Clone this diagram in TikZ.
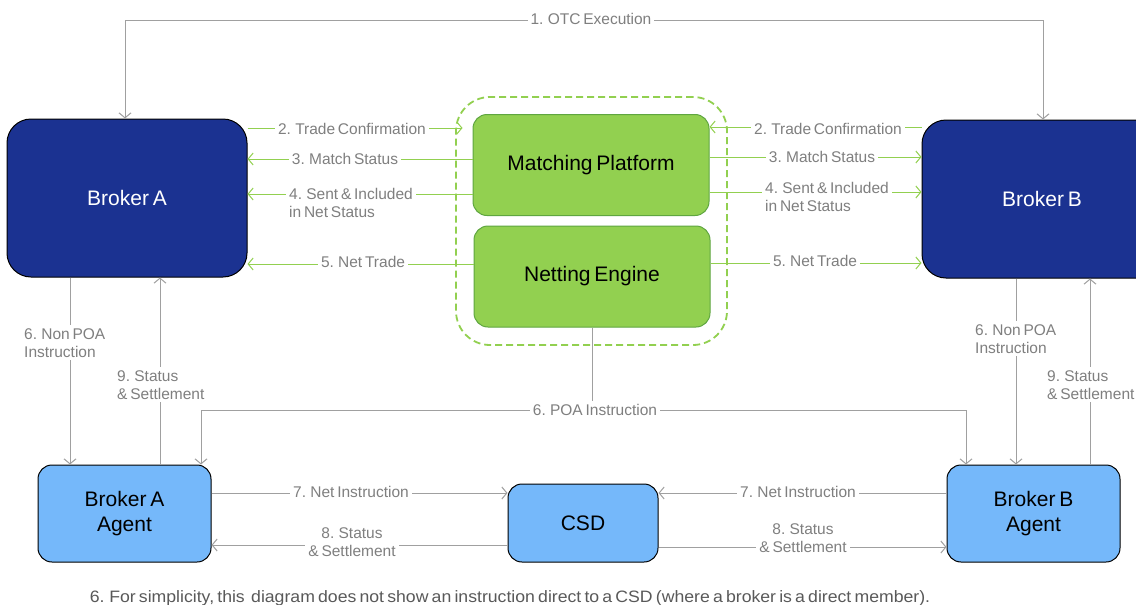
\documentclass[tikz,border=0pt]{standalone}
\usepackage{fontspec}
\setmainfont{Liberation Sans}
\newfontfamily\lblfont{Liberation Sans}[WordSpace=0.65]
\newfontfamily\notefont{Liberation Sans}[WordSpace=0.65,FakeStretch=1.07]
\usetikzlibrary{arrows.meta}
\definecolor{dblue}{HTML}{1B3291}
\definecolor{lblue}{HTML}{75B8FA}
\definecolor{lgreen}{HTML}{92D050}
\definecolor{gborder}{HTML}{5FA640}
\definecolor{lgray}{HTML}{A0A0A0}
\definecolor{tgray}{HTML}{7F7F7F}
\definecolor{fgray}{HTML}{595959}
\begin{document}
\begin{tikzpicture}[x=1pt,y=-1pt,
  >={Straight Barb[length=5pt,width=12pt]},
  broker/.style={draw=black, line width=1pt, fill=dblue, rounded corners=24pt, text=white,
    font=\lblfont\fontsize{21}{24}\selectfont, minimum width=240pt, minimum height=158pt, inner sep=0pt},
  agent/.style={draw=black, line width=1pt, fill=lblue, rounded corners=14pt, align=center,
    font=\lblfont\fontsize{21}{25}\selectfont, inner sep=0pt},
  plat/.style={draw=gborder, line width=1pt, fill=lgreen, rounded corners=14pt,
    font=\lblfont\fontsize{21}{24}\selectfont, minimum width=236pt, minimum height=101pt, inner sep=0pt},
  grp/.style={draw=lgreen, line width=1.8pt, dash pattern=on 7pt off 4pt, rounded corners=34pt,
    minimum width=271pt, minimum height=248pt, inner sep=0pt},
  gline/.style={draw=lgreen, line width=1pt},
  garrow/.style={gline, ->},
  pline/.style={draw=lgray, line width=1pt},
  parrow/.style={pline, ->},
  parrows/.style={pline, <->},
  lbl/.style={fill=white, text=tgray, font=\lblfont\fontsize{15.5}{18}\selectfont, inner sep=3pt, align=left},
  lblc/.style={lbl, align=center},
]
\clip (0,0) rectangle (1136,605);
\fill[white] (0,0) rectangle (1136,605);

% group
\node[grp] (grp) at (591.5,221) {};

% nodes
\node[broker] (ba) at (127,198) {Broker A};
\node[broker] (bb) at (1042,199) {Broker B};
\node[plat] (mp) at (591,165) {Matching Platform};
\node[plat] (ne) at (592,276.5) {Netting Engine};
\node[agent, minimum width=173pt, minimum height=97pt] (baa) at (124.5,513.5) {Broker A\\Agent};
\node[agent, minimum width=150pt, minimum height=78pt] (csd) at (583,523) {CSD};
\node[agent, minimum width=173pt, minimum height=97pt] (bba) at (1033.5,513.5) {Broker B\\Agent};

% 1. OTC Execution
\draw[parrows] (ba.north -| 125,0) -- (125,20) -- (1043,20) -- (bb.north -| 1043,0);
\node[lbl] (l1) at (591,19) {1. OTC Execution};

% green connectors left
\draw[garrow, shorten >=10pt] (ba.east |- 0,128) -- (mp.west |- 0,128);
\draw[garrow] (mp.west |- 0,159) -- (ba.east |- 0,159);
\draw[garrow] (mp.west |- 0,194) -- (ba.east |- 0,194);
\draw[garrow] (ne.west |- 0,264) -- (ba.east |- 0,264);
\node[lbl] (l2a) at (352,129) {2. Trade Confirmation};
\node[lbl] (l3a) at (345,159) {3. Match Status};
\node[lbl, anchor=north west] (l4a) at (286,185) {4. Sent \& Included\\in Net Status};
\node[lbl] (l5a) at (363,262) {5. Net Trade};

% green connectors right
\draw[garrow] (bb.west |- 0,127) -- (mp.east |- 0,127);
\draw[garrow] (mp.east |- 0,157) -- (bb.west |- 0,157);
\draw[garrow] (mp.east |- 0,192) -- (bb.west |- 0,192);
\draw[garrow] (ne.east |- 0,263) -- (bb.west |- 0,263);
\node[lbl] (l2b) at (828,129) {2. Trade Confirmation};
\node[lbl] (l3b) at (822,157) {3. Match Status};
\node[lbl, anchor=north west] (l4b) at (762,179) {4. Sent \& Included\\in Net Status};
\node[lbl] (l5b) at (815,261) {5. Net Trade};

% broker <-> agent verticals
\draw[parrow] (ba.south -| 70,0) -- (baa.north -| 70,0);
\draw[parrow] (baa.north -| 160,0) -- (ba.south -| 160,0);
\draw[parrow] (bb.south -| 1016,0) -- (bba.north -| 1016,0);
\draw[parrow] (bba.north -| 1090,0) -- (bb.south -| 1090,0);
\node[lbl, anchor=north west] (l6a) at (21,325) {6. Non POA\\Instruction};
\node[lbl, anchor=north west] (l9a) at (114,367) {9. Status\\\& Settlement};
\node[lbl, anchor=north west] (l6b) at (972,321) {6. Non POA\\Instruction};
\node[lbl, anchor=north west] (l9b) at (1044,367) {9. Status\\\& Settlement};

% POA instruction
\draw[parrow] (ne.south) -- (ne.south |- 0,410) -| (baa.north -| 201,0);
\draw[parrow] (ne.south |- 0,410) -| (bba.north -| 966,0);
\node[lbl] (l6p) at (595,410) {6. POA Instruction};

% agent <-> CSD
\draw[parrow] (baa.east |- 0,493) -- (csd.west |- 0,493);
\draw[parrow] (csd.west |- 0,545) -- (baa.east |- 0,545);
\draw[parrow] (bba.west |- 0,493) -- (csd.east |- 0,493);
\draw[parrow] (csd.east |- 0,547) -- (bba.west |- 0,547);
\node[lbl] (l7a) at (351,492) {7. Net Instruction};
\node[lblc] (l8a) at (352,542) {8. Status\\\& Settlement};
\node[lbl] (l7b) at (798,492) {7. Net Instruction};
\node[lblc] (l8b) at (803,538) {8. Status\\\& Settlement};

% footnote
\node[text=fgray, font=\notefont\fontsize{16.5}{18}\selectfont, inner sep=0pt] (fn) at (510,598)
  {6. For simplicity, this\ \ diagram does not show an instruction direct to a CSD (where a broker is a direct member).};
\end{tikzpicture}
\end{document}
